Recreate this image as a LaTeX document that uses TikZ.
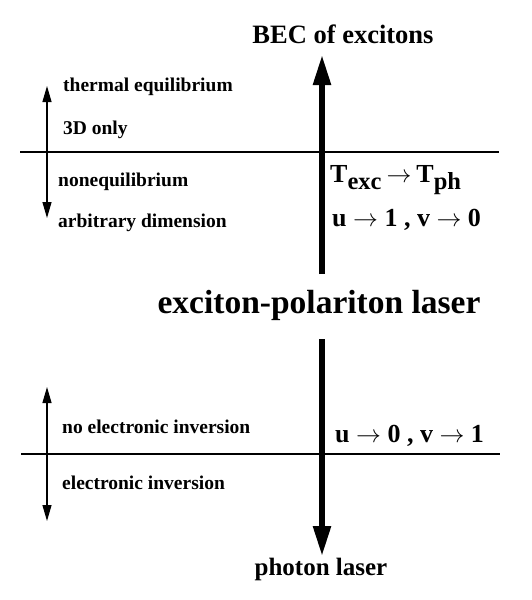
\documentclass[tikz,border=0pt]{standalone}
\usepackage{fontspec}
\setmainfont{Liberation Serif}
\usetikzlibrary{arrows.meta}
\newcommand{\lowsub}[1]{\raisebox{-0.28em}{\fontsize{24.5}{26}\selectfont #1}}
\newcommand{\gp}{\hspace{6.5pt}}
\tikzset{
  small/.style={font=\fontsize{19.5}{22}\selectfont\bfseries, anchor=west, inner sep=0pt},
  mid/.style={font=\fontsize{26}{30}\selectfont\bfseries, anchor=west, inner sep=0pt},
  title/.style={font=\fontsize{25}{28}\selectfont\bfseries, inner sep=0pt},
  big/.style={font=\fontsize{33.5}{36}\selectfont\bfseries, inner sep=0pt},
  bigarrow/.style={line width=5.5pt, -{Triangle[length=30pt,width=17pt]}},
  dbl/.style={line width=1.2pt, {Triangle[length=16pt,width=9pt]}-{Triangle[length=16pt,width=9pt]}},
  rule/.style={line width=1.2pt}
}
\begin{document}
\begin{tikzpicture}[x=1pt,y=-1pt]
\useasboundingbox (0,0) rectangle (531,600);
% titles
\node[title, font=\fontsize{26.5}{28}\selectfont\bfseries] (bec) at (343,34) {BEC of excitons};
\node[big] (epl) at (319,305) {exciton-polariton laser};
\node[title] (pl) at (321,569) {photon laser};
% coordinates
\coordinate (upS) at (322,274);
\coordinate (upE) at (322,55);
\coordinate (dnS) at (322,339);
\coordinate (dnE) at (322,556);
\coordinate (l1a) at (20,152);
\coordinate (l1b) at (499,152);
\coordinate (l2a) at (21,454);
\coordinate (l2b) at (500,454);
\coordinate (d1a) at (47,86);
\coordinate (d1b) at (47,218);
\coordinate (d2a) at (47,387);
\coordinate (d2b) at (47,521);
% lines
\draw[rule] (l1a) -- (l1b);
\draw[rule] (l2a) -- (l2b);
\draw[bigarrow] (upS) -- (upE);
\draw[bigarrow] (dnS) -- (dnE);
\draw[dbl] (d1a) -- (d1b);
\draw[dbl] (d2a) -- (d2b);
% labels
\node[small] (te) at (63,87) {thermal equilibrium};
\node[small] (td) at (63,130) {3D only};
\node[small] (ne) at (58,182) {nonequilibrium};
\node[small] (ad) at (58,223) {arbitrary dimension};
\node[small] (nei) at (62,427) {no electronic inversion};
\node[small] (ei) at (62,483) {electronic inversion};
\node[mid] (tt) at (330,180) {T\lowsub{exc}\hspace{5pt}$\rightarrow$\hspace{5pt}T\lowsub{ph}};
\node[mid] (uv1) at (332,220) {u\gp$\rightarrow$\gp1\gp,\gp v\gp$\rightarrow$\gp0};
\node[mid] (uv2) at (335,436) {u\gp$\rightarrow$\gp0\gp,\gp v\gp$\rightarrow$\gp1};
\end{tikzpicture}
\end{document}
